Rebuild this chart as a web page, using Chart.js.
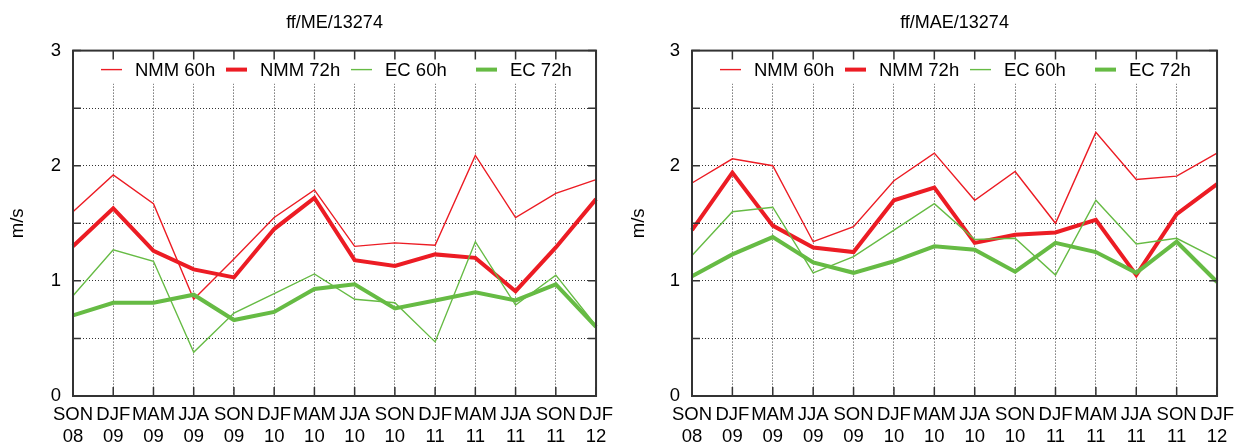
<!DOCTYPE html>
<html>
<head>
<meta charset="utf-8">
<script src="https://cdn.jsdelivr.net/npm/chart.js@4.4.1/dist/chart.umd.min.js"></script>
<style>
  html, body { margin: 0; padding: 0; background: #fff; }
  .panel { position: absolute; top: 0; width: 621px; height: 443px; }
  #left { left: 0; }
  #right { left: 621px; }
</style>
</head>
<body>
<div class="panel" id="left"><canvas id="chartME" width="621" height="443"></canvas></div>
<div class="panel" id="right"><canvas id="chartMAE" width="621" height="443"></canvas></div>
<script>
// categorias (estação / ano)
const seasons = ["SON", "DJF", "MAM", "JJA", "SON", "DJF", "MAM", "JJA", "SON", "DJF", "MAM", "JJA", "SON", "DJF"];
const years = ["08", "09", "09", "09", "09", "10", "10", "10", "10", "11", "11", "11", "11", "12"];
const yTicks = [0, 1, 2, 3];

// ff/ME/13274
const meNmm60 = [1.60, 1.92, 1.67, 0.84, 1.19, 1.55, 1.79, 1.30, 1.33, 1.31, 2.09, 1.55, 1.76, 1.88];
const meNmm72 = [1.30, 1.63, 1.26, 1.10, 1.03, 1.45, 1.72, 1.18, 1.13, 1.23, 1.20, 0.91, 1.29, 1.71];
const meEc60 = [0.87, 1.27, 1.17, 0.38, 0.72, 0.89, 1.06, 0.84, 0.81, 0.47, 1.34, 0.79, 1.05, 0.61];
const meEc72 = [0.70, 0.81, 0.81, 0.88, 0.66, 0.73, 0.93, 0.97, 0.76, 0.83, 0.90, 0.83, 0.97, 0.60];

// ff/MAE/13274
const maeNmm60 = [1.85, 2.06, 2.00, 1.34, 1.47, 1.87, 2.11, 1.70, 1.95, 1.50, 2.29, 1.88, 1.91, 2.11];
const maeNmm72 = [1.44, 1.94, 1.48, 1.29, 1.25, 1.70, 1.81, 1.33, 1.40, 1.42, 1.53, 1.05, 1.58, 1.84];
const maeEc60 = [1.22, 1.60, 1.64, 1.07, 1.21, 1.44, 1.67, 1.36, 1.37, 1.05, 1.70, 1.32, 1.37, 1.19];
const maeEc72 = [1.04, 1.23, 1.38, 1.16, 1.07, 1.17, 1.30, 1.27, 1.08, 1.33, 1.25, 1.07, 1.34, 0.99];

const RED = "#ec1c24";
const GREEN = "#66bb44";
const FRAME = "#333";

Chart.defaults.font.family = "'Liberation Sans', Arial, Helvetica, sans-serif";
Chart.defaults.color = "#000";

const labels = seasons.map((s, i) => [s, years[i]]);

// legenda, moldura e marcas internas no estilo gnuplot
const gnuplotFrame = {
  id: "gnuplotFrame",
  beforeDatasetsDraw(chart) {
    const { ctx, chartArea: a } = chart;
    ctx.save();
    // limpa a grade atrás da legenda
    ctx.fillStyle = "#fff";
    ctx.fillRect(a.left + 1, a.top + 1, a.right - a.left - 2, 32);
    // legenda
    const y = a.top + 19;
    chart.data.datasets.forEach((ds, i) => {
      const x = a.left + 28 + i * 125;
      ctx.strokeStyle = ds.borderColor;
      ctx.lineWidth = ds.borderWidth;
      ctx.beginPath();
      ctx.moveTo(x, y);
      ctx.lineTo(x + 21, y);
      ctx.stroke();
      ctx.fillStyle = "#000";
      ctx.font = "18.5px 'Liberation Sans', Arial, sans-serif";
      ctx.textBaseline = "middle";
      ctx.textAlign = "left";
      ctx.fillText(ds.label, x + 34, y + 1);
    });
    ctx.restore();
  },
  afterDatasetsDraw(chart) {
    const { ctx, chartArea: a, scales } = chart;
    ctx.save();
    ctx.strokeStyle = FRAME;
    ctx.lineWidth = 1.5;
    ctx.beginPath();
    scales.y.ticks.forEach(t => {
      const py = scales.y.getPixelForValue(t.value);
      ctx.moveTo(a.left, py); ctx.lineTo(a.left + 8, py);
      ctx.moveTo(a.right, py); ctx.lineTo(a.right - 8, py);
    });
    labels.forEach((l, i) => {
      const px = scales.x.getPixelForValue(i);
      ctx.moveTo(px, a.top); ctx.lineTo(px, a.top + 9);
      ctx.moveTo(px, a.bottom); ctx.lineTo(px, a.bottom - 9);
    });
    ctx.stroke();
    ctx.lineWidth = 2;
    ctx.strokeRect(a.left, a.top, a.right - a.left, a.bottom - a.top);
    ctx.restore();
  }
};

function criarGrafico(id, titulo, series, larguraEixo, padDireita) {
  const ctx = document.getElementById(id).getContext("2d");
  return new Chart(ctx, {
    type: "line",
    data: {
      labels: labels,
      datasets: [
        { label: "NMM 60h", data: series[0], borderColor: RED, borderWidth: 1.4, order: 3 },
        { label: "NMM 72h", data: series[1], borderColor: RED, borderWidth: 4, order: 2 },
        { label: "EC 60h", data: series[2], borderColor: GREEN, borderWidth: 1.4, order: 1 },
        { label: "EC 72h", data: series[3], borderColor: GREEN, borderWidth: 4, order: 0 }
      ].map(d => Object.assign(d, { pointRadius: 0, tension: 0, fill: false }))
    },
    options: {
      responsive: false,
      animation: false,
      devicePixelRatio: 1,
      layout: { padding: { left: 0, right: padDireita, top: 0, bottom: 0 } },
      plugins: {
        legend: { display: false },
        tooltip: { enabled: false },
        title: {
          display: true,
          text: titulo,
          fullSize: false,
          font: { size: 18, weight: "normal" },
          color: "#000",
          padding: { top: 12, bottom: 17 }
        }
      },
      scales: {
        x: {
          type: "category",
          offset: false,
          afterFit: s => { s.height = 47; },
          grid: { color: "rgba(0,0,0,0.8)", lineWidth: 1, drawTicks: false },
          border: { display: true, color: FRAME, width: 2, dash: [1, 2] },
          ticks: { autoSkip: false, maxRotation: 0, padding: 8, font: { size: 18.5 }, color: "#000" }
        },
        y: {
          min: 0,
          max: 3,
          afterFit: s => { s.width = larguraEixo; },
          grid: { color: "rgba(0,0,0,0.8)", lineWidth: 1, drawTicks: false },
          border: { display: true, color: FRAME, width: 2, dash: [1, 2] },
          ticks: {
            stepSize: 0.5,
            padding: 12,
            font: { size: 18.5 },
            color: "#000",
            callback: v => (yTicks.includes(v) ? String(v) : "")
          },
          title: { display: true, text: "m/s", font: { size: 18.5 }, color: "#000", padding: { top: 7 } }
        }
      }
    },
    plugins: [gnuplotFrame]
  });
}

criarGrafico("chartME", "ff/ME/13274", [meNmm60, meNmm72, meEc60, meEc72], 73, 17);
criarGrafico("chartMAE", "ff/MAE/13274", [maeNmm60, maeNmm72, maeEc60, maeEc72], 71, 19);
</script>
</body>
</html>
